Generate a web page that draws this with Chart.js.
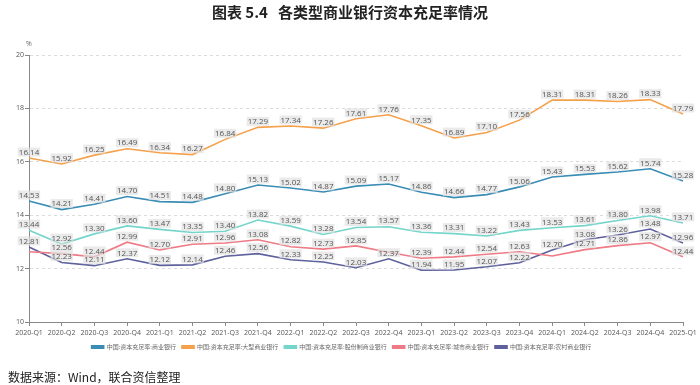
<!DOCTYPE html>
<html><head><meta charset="utf-8">
<script src="https://cdn.jsdelivr.net/npm/chart.js@4"></script>
<style>
body{margin:0;background:#fff;width:700px;height:385px;overflow:hidden;position:relative;font-family:"Noto Sans CJK SC",sans-serif;}
#wrap{position:absolute;left:0;top:0;width:700px;height:385px;}
#title{position:absolute;top:1px;left:0;width:700px;text-align:center;font-weight:bold;font-size:15px;color:#222;white-space:pre;}
#src{position:absolute;left:8px;top:368px;font-size:12px;color:#222;}
</style></head>
<body>
<div id="wrap"><canvas id="c"></canvas></div>
<div id="title">图表 5.4   各类型商业银行资本充足率情况</div>
<div id="src">数据来源：Wind，联合资信整理</div>
<script>
const categories = ["2020-Q1","2020-Q2","2020-Q3","2020-Q4","2021-Q1","2021-Q2","2021-Q3","2021-Q4","2022-Q1","2022-Q2","2022-Q3","2022-Q4","2023-Q1","2023-Q2","2023-Q3","2023-Q4","2024-Q1","2024-Q2","2024-Q3","2024-Q4","2025-Q1"];
const seriesNames = ["中国:资本充足率:商业银行","中国:资本充足率:大型商业银行","中国:资本充足率:股份制商业银行","中国:资本充足率:城市商业银行","中国:资本充足率:农村商业银行"];
const commercial = [14.53,14.21,14.41,14.70,14.51,14.48,14.80,15.13,15.02,14.87,15.09,15.17,14.86,14.66,14.77,15.06,15.43,15.53,15.62,15.74,15.28];
const large = [16.14,15.92,16.25,16.49,16.34,16.27,16.84,17.29,17.34,17.26,17.61,17.76,17.35,16.89,17.10,17.56,18.31,18.31,18.26,18.33,17.79];
const jointStock = [13.44,12.92,13.30,13.60,13.47,13.35,13.40,13.82,13.59,13.28,13.54,13.57,13.36,13.31,13.22,13.43,13.53,13.61,13.80,13.98,13.71];
const city = [12.63,12.56,12.44,12.99,12.70,12.91,12.96,13.08,12.82,12.73,12.85,12.61,12.39,12.44,12.54,12.63,12.47,12.71,12.86,12.97,12.44];
const rural = [12.81,12.23,12.11,12.37,12.12,12.14,12.46,12.56,12.33,12.25,12.03,12.37,11.94,11.95,12.07,12.22,12.70,13.08,13.26,13.48,12.96];
const yTicks = [10,12,14,16,18,20];

const colors = ["#3a8db5","#f5a04a","#74d5cb","#ee7b85","#5d619c"];
const seriesData = [commercial, large, jointStock, city, rural];

const labelPlugin = {
  id:'lbl',
  afterDatasetsDraw(chart){
    const ctx = chart.ctx; ctx.save();
    ctx.font = '8px "Open Sans"'; ctx.textAlign='center'; ctx.textBaseline='middle';
    const placed = [];
    for (let d = chart.data.datasets.length-1; d >= 0; d--) {
      const meta = chart.getDatasetMeta(d);
      meta.data.forEach((pt,i) => {
        const v = chart.data.datasets[d].data[i];
        const txt = v.toFixed(2);
        const w = ctx.measureText(txt).width + 2, h = 9;
        const x = pt.x, y = pt.y - 6;
        const hit = placed.some(p => Math.abs(p.x-x) < (p.w+w)/2 && Math.abs(p.y-y) < 8);
        if (hit) return;
        placed.push({x,y,w});
        ctx.fillStyle = 'rgba(225,225,225,0.7)';
        ctx.fillRect(x-w/2, y-h/2, w, h);
        ctx.fillStyle = '#555';
        ctx.fillText(txt, x, y+0.5);
      });
    }
    const ys = chart.scales.y;
    ctx.fillStyle = '#666'; ctx.font = '7px "Open Sans"';
    ctx.fillText('%', ys.right, chart.chartArea.top - 11);
    ctx.restore();
  }
};

new Chart(document.getElementById('c'), {
  type:'line',
  data:{
    labels: categories,
    datasets: seriesNames.map((n,k)=>({
      label:n, data:seriesData[k], borderColor:colors[k], backgroundColor:colors[k],
      borderWidth:1.6, pointRadius:0, tension:0, fill:false
    }))
  },
  options:{
    responsive:true, maintainAspectRatio:false, animation:false,
    layout:{padding:{left:0,right:17,top:55,bottom:25}},
    plugins:{
      tooltip:{enabled:false},
      legend:{position:'bottom', labels:{boxWidth:12, boxHeight:2.5, padding:6, color:'#666', font:{size:6, family:'"Noto Sans CJK SC"'}}},
    },
    scales:{
      x:{
        grid:{display:true, drawOnChartArea:false, tickLength:4, color:'#888', tickColor:'#888'},
        border:{display:true, color:'#888'},
        ticks:{color:'#555', font:{size:7, family:'"Open Sans"'}, maxRotation:0, autoSkip:false, padding:3},
        afterFit(s){ s.height = 16; }
      },
      y:{
        min:10, max:20,
        afterBuildTicks(s){ s.ticks = yTicks.map(v=>({value:v})); },
        grid:{color:(c)=> c.tick && c.tick.value===10 ? 'rgba(0,0,0,0)' : '#dcdcdc', tickColor:'#888', tickLength:4, lineWidth:1},
        border:{display:true, color:'#888', dash:[3,3]},
        ticks:{color:'#555', font:{size:7, family:'"Open Sans"'}, padding:1},
        afterFit(s){ s.width = 29; }
      }
    }
  },
  plugins:[labelPlugin]
});
</script>
</body></html>
